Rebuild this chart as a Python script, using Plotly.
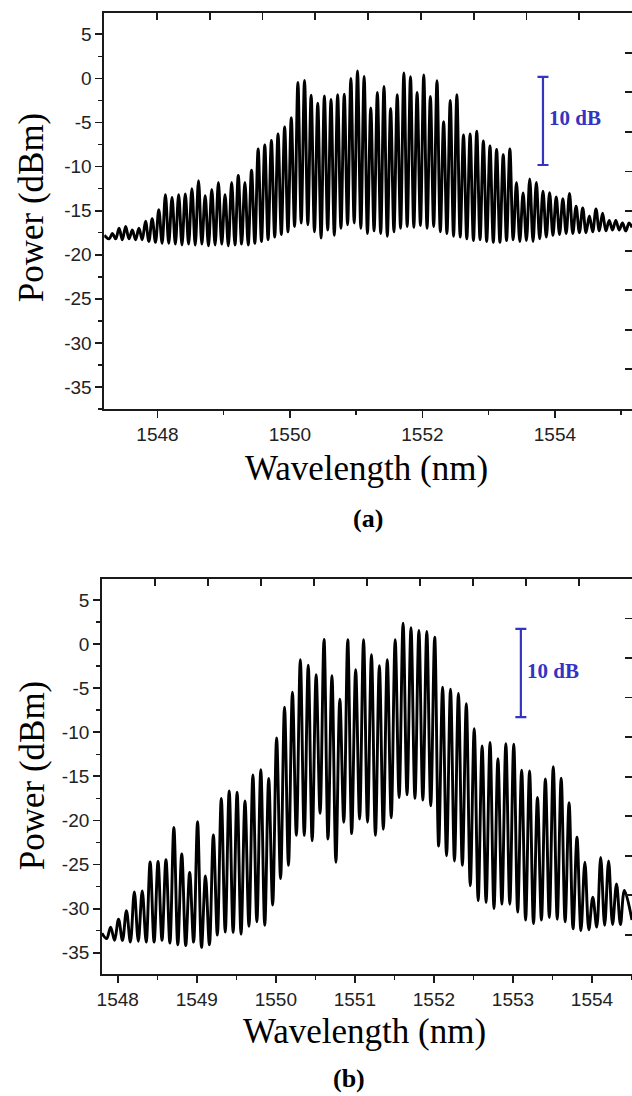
import plotly.graph_objects as go

# ---------------- Panel (a) data ----------------
A_PEAK_WL = [
    1547.32, 1547.42, 1547.52, 1547.62, 1547.72, 1547.82, 1547.92, 1548.02, 1548.12, 1548.22,
    1548.32, 1548.42, 1548.52, 1548.62, 1548.72, 1548.82, 1548.92, 1549.02, 1549.12, 1549.22,
    1549.32, 1549.42, 1549.52, 1549.62, 1549.72, 1549.82, 1549.92, 1550.02, 1550.12, 1550.22,
    1550.32, 1550.42, 1550.52, 1550.62, 1550.72, 1550.82, 1550.92, 1551.02, 1551.12, 1551.22,
    1551.32, 1551.42, 1551.52, 1551.62, 1551.72, 1551.82, 1551.92, 1552.02, 1552.12, 1552.22,
    1552.32, 1552.42, 1552.52, 1552.62, 1552.72, 1552.82, 1552.92, 1553.02, 1553.12, 1553.22,
    1553.32, 1553.42, 1553.52, 1553.62, 1553.72, 1553.82, 1553.92, 1554.02, 1554.12, 1554.22,
    1554.32, 1554.42, 1554.52, 1554.62, 1554.72, 1554.82, 1554.92, 1555.02, 1555.12,
]
A_PEAK_DBM = [
    -17.6, -17.0, -16.8, -17.2, -17.0, -16.2, -15.9, -14.9, -13.2, -13.5,
    -13.2, -13.1, -12.5, -11.6, -13.3, -12.6, -11.8, -13.2, -11.8, -11.0,
    -11.8, -10.4, -8.0, -7.55, -7.05, -6.3, -5.5, -4.45, -0.45, -0.22,
    -1.9, -2.8, -2.0, -2.4, -1.85, -1.8, 0.0, 0.84, 0.22, -3.35,
    -1.6, -0.9, -3.4, -1.85, 0.62, 0.2, -1.6, 0.38, -2.05, -0.26,
    -4.9, -2.5, -1.85, -6.4, -6.3, -6.0, -7.1, -7.66, -8.05, -8.65,
    -8.0, -11.8, -13.0, -11.4, -11.8, -12.8, -12.95, -13.45, -13.65, -13.05,
    -14.5, -14.7, -15.6, -14.8, -15.3, -16.1, -16.1, -16.4, -16.4,
]
A_TROUGH_WL = [
    1547.27, 1547.37, 1547.47, 1547.57, 1547.67, 1547.77, 1547.87, 1547.97, 1548.07, 1548.17,
    1548.27, 1548.37, 1548.47, 1548.57, 1548.67, 1548.77, 1548.87, 1548.97, 1549.07, 1549.17,
    1549.27, 1549.37, 1549.47, 1549.57, 1549.67, 1549.77, 1549.87, 1549.97, 1550.07, 1550.17,
    1550.27, 1550.37, 1550.47, 1550.57, 1550.67, 1550.77, 1550.87, 1550.97, 1551.07, 1551.17,
    1551.27, 1551.37, 1551.47, 1551.57, 1551.67, 1551.77, 1551.87, 1551.97, 1552.07, 1552.17,
    1552.27, 1552.37, 1552.47, 1552.57, 1552.67, 1552.77, 1552.87, 1552.97, 1553.07, 1553.17,
    1553.27, 1553.37, 1553.47, 1553.57, 1553.67, 1553.77, 1553.87, 1553.97, 1554.07, 1554.17,
    1554.27, 1554.37, 1554.47, 1554.57, 1554.67, 1554.77, 1554.87, 1554.97, 1555.07,
]
A_TROUGH_DBM = [
    -18.2, -18.2, -18.3, -18.2, -18.3, -18.3, -18.5, -18.6, -18.7, -18.7,
    -18.8, -18.9, -18.8, -18.9, -18.8, -19.0, -18.9, -18.8, -19.0, -18.9,
    -18.8, -18.9, -18.7, -18.5, -18.3, -18.0, -17.7, -17.4, -16.8, -16.4,
    -16.6, -17.4, -18.1, -17.2, -17.8, -17.0, -16.6, -16.4, -17.0, -17.6,
    -17.3, -17.6, -17.9, -17.4, -17.0, -16.8, -16.9, -16.7, -17.0, -16.8,
    -17.4, -17.6, -17.9, -18.0, -18.2, -18.4, -18.3, -18.5, -18.6, -18.6,
    -18.4, -18.3, -18.5, -18.4, -18.5, -18.2, -18.0, -17.8, -17.7, -17.6,
    -17.6, -17.5, -17.5, -17.4, -17.3, -17.3, -17.2, -17.2, -17.3,
]
A_EDGE_WL = [1547.196, 1555.164]
A_EDGE_DBM = [-17.8, -16.9]
A_BAR = dict(x=1553.82, top=0.18, span=10.0)
A_BAR_LABEL = dict(x=1554.3, y=-4.5, text="10 dB")

# ---------------- Panel (b) data ----------------
B_PEAK_WL = [
    1547.91, 1548.01, 1548.11, 1548.21, 1548.31, 1548.41, 1548.51, 1548.61, 1548.71, 1548.81,
    1548.91, 1549.01, 1549.11, 1549.21, 1549.31, 1549.41, 1549.51, 1549.61, 1549.71, 1549.81,
    1549.91, 1550.01, 1550.11, 1550.21, 1550.31, 1550.41, 1550.51, 1550.61, 1550.71, 1550.81,
    1550.91, 1551.01, 1551.11, 1551.21, 1551.31, 1551.41, 1551.51, 1551.61, 1551.71, 1551.81,
    1551.91, 1552.01, 1552.11, 1552.21, 1552.31, 1552.41, 1552.51, 1552.61, 1552.71, 1552.81,
    1552.91, 1553.01, 1553.11, 1553.21, 1553.31, 1553.41, 1553.51, 1553.61, 1553.71, 1553.81,
    1553.91, 1554.01, 1554.11, 1554.21, 1554.31, 1554.41,
]
B_PEAK_DBM = [
    -32.1, -31.2, -30.25, -28.1, -28.0, -24.7, -24.65, -24.45, -20.8, -23.8,
    -25.9, -20.15, -26.3, -21.65, -17.5, -16.65, -16.8, -17.8, -14.85, -14.25,
    -15.25, -10.65, -7.15, -5.45, -1.77, -2.4, -3.47, 0.52, -3.6, -6.25,
    0.49, -2.9, 0.49, -1.2, -2.45, -1.77, 0.49, 2.37, 1.85, 1.54,
    1.42, 0.77, -4.88, -5.12, -5.6, -6.75, -9.6, -11.55, -11.15, -13.0,
    -11.3, -11.35, -14.3, -14.4, -17.4, -15.3, -13.9, -15.2, -18.0, -21.9,
    -24.75, -28.7, -24.2, -24.6, -27.2, -27.95,
]
B_TROUGH_WL = [
    1547.86, 1547.96, 1548.06, 1548.16, 1548.26, 1548.36, 1548.46, 1548.56, 1548.66, 1548.76,
    1548.86, 1548.96, 1549.06, 1549.16, 1549.26, 1549.36, 1549.46, 1549.56, 1549.66, 1549.76,
    1549.86, 1549.96, 1550.06, 1550.16, 1550.26, 1550.36, 1550.46, 1550.56, 1550.66, 1550.76,
    1550.86, 1550.96, 1551.06, 1551.16, 1551.26, 1551.36, 1551.46, 1551.56, 1551.66, 1551.76,
    1551.86, 1551.96, 1552.06, 1552.16, 1552.26, 1552.36, 1552.46, 1552.56, 1552.66, 1552.76,
    1552.86, 1552.96, 1553.06, 1553.16, 1553.26, 1553.36, 1553.46, 1553.56, 1553.66, 1553.76,
    1553.86, 1553.96, 1554.06, 1554.16, 1554.26, 1554.36,
]
B_TROUGH_DBM = [
    -33.4, -33.6, -33.6, -33.8, -33.7, -33.8, -33.8, -33.6, -33.9, -34.1,
    -34.2, -33.8, -34.4, -34.1, -33.0, -32.65, -32.7, -32.9, -32.0, -31.5,
    -31.9, -29.6, -26.6, -25.1, -21.7, -21.7, -22.3, -19.2, -22.1, -24.75,
    -20.2, -21.5, -19.85, -20.2, -21.7, -21.0, -19.7, -17.4, -17.1, -17.5,
    -17.7, -18.35, -22.9, -24.0, -24.6, -25.1, -27.4, -29.1, -29.3, -30.0,
    -29.5, -29.5, -30.4, -31.3, -31.7, -31.3, -31.0, -31.2, -31.5, -32.3,
    -32.5, -32.4, -32.1, -31.9, -31.8, -31.8,
]
B_EDGE_WL = [1547.80, 1554.506]
B_EDGE_DBM = [-32.8, -31.3]
B_BAR = dict(x=1553.10, top=1.72, span=10.0)
B_BAR_LABEL = dict(x=1553.51, y=-3.0, text="10 dB")

# ---------------- axes / ticks ----------------
A_XRANGE = [1547.196, 1555.164]
A_YRANGE = [-37.5, 7.42]
B_XRANGE = [1547.80, 1554.506]
B_YRANGE = [-37.45, 7.38]
Y_TICKS = [5, 0, -5, -10, -15, -20, -25, -30, -35]
Y_TICKTEXT = [str(v) for v in Y_TICKS]

W, H = 632, 1096
BLUE = "#3434C0"
AXC = "#1a1a1a"
SERIF = "Liberation Serif, Times New Roman, serif"
SANS = "Liberation Sans, Arial, sans-serif"


def spectrum(pw, pd, tw, td, ew, ed):
    pts = sorted(zip(pw + tw + ew, pd + td + ed))
    return [p[0] for p in pts], [p[1] for p in pts]


fig = go.Figure()

ax_, ay_ = spectrum(A_PEAK_WL, A_PEAK_DBM, A_TROUGH_WL, A_TROUGH_DBM, A_EDGE_WL, A_EDGE_DBM)
bx_, by_ = spectrum(B_PEAK_WL, B_PEAK_DBM, B_TROUGH_WL, B_TROUGH_DBM, B_EDGE_WL, B_EDGE_DBM)

for xs, ys, xa, ya in [(ax_, ay_, "x", "y"), (bx_, by_, "x2", "y2")]:
    fig.add_trace(go.Scatter(
        x=xs, y=ys, mode="lines", xaxis=xa, yaxis=ya,
        line=dict(color="black", width=2.9, shape="spline", smoothing=1.0),
        showlegend=False, hoverinfo="skip"))

for bar, xa, ya in [(A_BAR, "x", "y"), (B_BAR, "x2", "y2")]:
    fig.add_trace(go.Scatter(
        x=[bar["x"]], y=[bar["top"] - bar["span"] / 2], mode="markers",
        xaxis=xa, yaxis=ya,
        marker=dict(size=1, color="rgba(0,0,0,0)"),
        error_y=dict(type="data", array=[bar["span"] / 2], color=BLUE,
                     thickness=2.2, width=5.5),
        showlegend=False, hoverinfo="skip"))

# dummy traces for the frame axes (top / right)
for xa, ya in [("x3", "y3"), ("x4", "y4")]:
    fig.add_trace(go.Scatter(x=[None], y=[None], xaxis=xa, yaxis=ya,
                             showlegend=False, hoverinfo="skip"))

A_XDOM = [100 / W, 1.0]
B_XDOM = [97.7 / W, 1.0]
A_YDOM = [1 - 409 / H, 1 - 13 / H]
B_YDOM = [1 - 974.3 / H, 1 - 579 / H]

common = dict(showgrid=False, zeroline=False, showline=True, linecolor=AXC,
              linewidth=1.8, tickcolor=AXC, tickwidth=1.8, ticklen=7,
              ticks="outside", tickfont=dict(family=SANS, size=19, color="#222222"),
              fixedrange=True)

fig.update_layout(
    width=W, height=H, autosize=False,
    margin=dict(l=0, r=0, t=0, b=0),
    paper_bgcolor="white", plot_bgcolor="white",
    xaxis=dict(domain=A_XDOM, anchor="y", range=A_XRANGE,
               tickmode="linear", tick0=1548, dtick=2,
               minor=dict(tickmode="linear", tick0=1548, dtick=1, ticks="outside",
                          ticklen=4, tickwidth=1.5, tickcolor=AXC),
               **common),
    yaxis=dict(domain=A_YDOM, anchor="x", range=A_YRANGE,
               tickmode="array", tickvals=Y_TICKS, ticktext=Y_TICKTEXT,
               minor=dict(tickmode="linear", tick0=0, dtick=2.5, ticks="outside",
                          ticklen=4, tickwidth=1.5, tickcolor=AXC),
               **common),
    xaxis2=dict(domain=B_XDOM, anchor="y2", range=B_XRANGE,
                tickmode="linear", tick0=1548, dtick=1,
                minor=dict(tickmode="linear", tick0=1548, dtick=0.5, ticks="outside",
                           ticklen=4, tickwidth=1.5, tickcolor=AXC),
                **common),
    yaxis2=dict(domain=B_YDOM, anchor="x2", range=B_YRANGE,
                tickmode="array", tickvals=Y_TICKS, ticktext=Y_TICKTEXT,
                minor=dict(tickmode="linear", tick0=0, dtick=2.5, ticks="outside",
                           ticklen=4, tickwidth=1.5, tickcolor=AXC),
                **common),
)

frame = dict(range=[0, 10], tickmode="linear", tick0=0, dtick=1, ticks="inside",
             ticklen=7, tickwidth=1.8, tickcolor=AXC, showticklabels=False,
             showgrid=False, zeroline=False, fixedrange=True)
fig.update_layout(
    xaxis3=dict(overlaying="x", side="top", anchor="y", showline=True,
                linecolor=AXC, linewidth=1.8, **frame),
    yaxis3=dict(overlaying="y", side="right", anchor="x", showline=False, **frame),
    xaxis4=dict(overlaying="x2", side="top", anchor="y2", showline=True,
                linecolor=AXC, linewidth=1.8, **frame),
    yaxis4=dict(overlaying="y2", side="right", anchor="x2", showline=False, **frame),
)

ann = []
for yc in [207, 775]:
    ann.append(dict(text="Power (dBm)", x=27.5 / W, y=1 - yc / H, xref="paper", yref="paper",
                    textangle=-90, showarrow=False, xanchor="center", yanchor="middle",
                    font=dict(family=SERIF, size=35, color="black")))
for xc, yc in [(364, 468), (362, 1031)]:
    ann.append(dict(text="Wavelength (nm)", x=xc / W, y=1 - yc / H, xref="paper", yref="paper",
                    showarrow=False, xanchor="center", yanchor="middle",
                    font=dict(family=SERIF, size=35, color="black")))
for lab, xc, yc in [("(a)", 366, 519), ("(b)", 347, 1078)]:
    ann.append(dict(text="<b>%s</b>" % lab, x=xc / W, y=1 - yc / H, xref="paper", yref="paper",
                    showarrow=False, xanchor="center", yanchor="middle",
                    font=dict(family=SERIF, size=26, color="black")))
for lbl, xa, ya in [(A_BAR_LABEL, "x", "y"), (B_BAR_LABEL, "x2", "y2")]:
    ann.append(dict(text="<b>%s</b>" % lbl["text"], x=lbl["x"], y=lbl["y"], xref=xa, yref=ya,
                    showarrow=False, xanchor="center", yanchor="middle",
                    font=dict(family=SERIF, size=21, color=BLUE)))
fig.update_layout(annotations=ann)

fig.write_html(
    "out.html",
    config={"displayModeBar": False, "staticPlot": True},
    post_script="document.body.style.margin='0';document.body.style.overflow='hidden';",
)
